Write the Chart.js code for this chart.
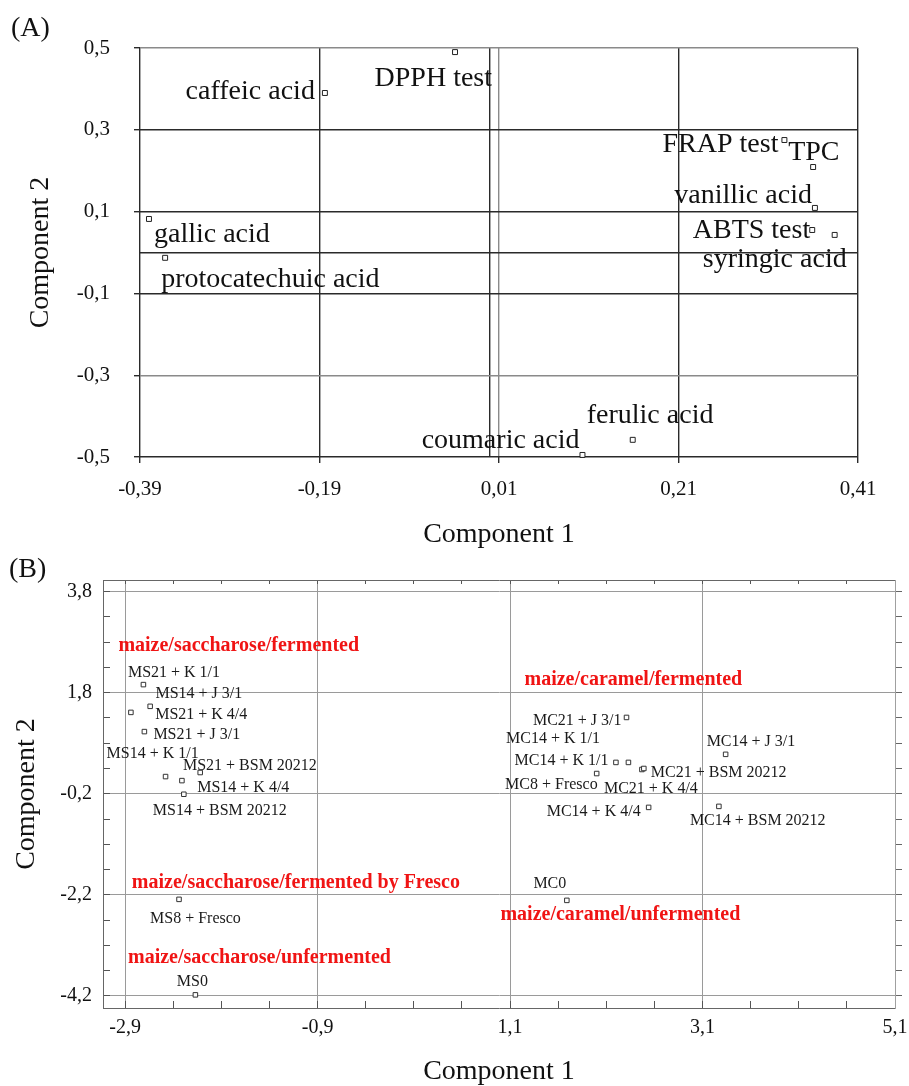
<!DOCTYPE html>
<html>
<head>
<meta charset="utf-8">
<title>PCA loadings and scores</title>
<script src="https://cdn.jsdelivr.net/npm/chart.js@4.4.1/dist/chart.umd.min.js"></script>
<style>
  html, body { margin: 0; padding: 0; background: #fff; }
  #page { position: relative; width: 909px; height: 1086px; overflow: hidden; font-family: "Liberation Serif", "Times New Roman", serif; }
  canvas { position: absolute; left: 0; }
  #chart-a { top: 0; }
  #chart-b { top: 545px; }
  .panel-tag { position: absolute; font-size: 28px; line-height: 1; color: #111; }
</style>
</head>
<body>
<div id="page">
  <canvas id="chart-a" width="909" height="560"></canvas>
  <canvas id="chart-b" width="909" height="541"></canvas>
  <div class="panel-tag" style="left:11px;top:13px">(A)</div>
  <div class="panel-tag" style="left:9px;top:554px">(B)</div>
</div>
<script>
// ---------- Data: (A) loadings ----------

const loadingNames = ['DPPH test', 'caffeic acid', 'gallic acid', 'protocatechuic acid', 'FRAP test', 'TPC',
    'vanillic acid', 'ABTS test', 'syringic acid', 'coumaric acid', 'ferulic acid'];
const loadingPC1 = [-0.039, -0.184, -0.380, -0.362, 0.328, 0.360, 0.362, 0.359, 0.384, 0.103, 0.159];
const loadingPC2 = [0.490, 0.390, 0.082, -0.013, 0.275, 0.209, 0.109, 0.055, 0.043, -0.495, -0.458];

const xTicksA = [-0.39, -0.19, 0, 0.01, 0.21, 0.41];
const xTickLabelsA = ['-0,39', '-0,19', '', '0,01', '0,21', '0,41'];
const yTicksA = [-0.5, -0.3, -0.1, 0, 0.1, 0.3, 0.5];
const yTickLabelsA = ['-0,5', '-0,3', '-0,1', '', '0,1', '0,3', '0,5'];

// ---------- Data: (B) scores ----------

const sampleNames = ['MS21 + K 1/1', 'MS14 + J 3/1', 'MS21 + K 4/4', 'MS21 + J 3/1', 'MS14 + K 1/1',
    'MS21 + BSM 20212', 'MS14 + K 4/4', 'MS14 + BSM 20212', 'MS8 + Fresco', 'MS0',
    'MC21 + J 3/1', 'MC14 + K 1/1', 'MC14 + K 1/1', 'MC8 + Fresco', 'MC21 + K 4/4',
    'MC21 + BSM 20212', 'MC14 + J 3/1', 'MC14 + K 4/4', 'MC14 + BSM 20212', 'MC0'];
const samplePC1 = [-2.84, -2.71, -2.64, -2.70, -2.48, -2.31, -2.12, -2.29, -2.34, -2.17,
    2.31, 2.20, 2.33, 2.00, 2.47, 2.49, 3.34, 2.54, 3.27, 1.69];
const samplePC2 = [1.41, 1.96, 1.53, 1.03, 0.14, 0.06, 0.22, -0.21, -2.29, -4.18,
    1.31, 0.42, 0.42, 0.20, 0.28, 0.30, 0.58, -0.47, -0.45, -2.31];

const groupNames = ['maize/saccharose/fermented', 'maize/caramel/fermented', 'maize/saccharose/fermented by Fresco',
    'maize/caramel/unfermented', 'maize/saccharose/unfermented'];
const groupPC1 = [-2.97, 1.25, -2.83, 1.00, -2.87];
const groupPC2 = [2.63, 1.95, -2.06, -2.70, -3.55];

const xTicksB = [-2.9, -2.4, -1.9, -1.4, -0.9, -0.4, 0.1, 0.6, 1.1, 1.6, 2.1, 2.6, 3.1, 3.6, 4.1, 4.6, 5.1];
const xTickLabelsB = ['-2,9', '', '', '', '-0,9', '', '', '', '1,1', '', '', '', '3,1', '', '', '', '5,1'];
const yTicksB = [-4.2, -3.7, -3.2, -2.7, -2.2, -1.7, -1.2, -0.7, -0.2, 0.3, 0.8, 1.3, 1.8, 2.3, 2.8, 3.3, 3.8];
const yTickLabelsB = ['-4,2', '', '', '', '-2,2', '', '', '', '-0,2', '', '', '', '1,8', '', '', '', '3,8'];

// ---------- Label placement (pixels from marker: dx, dy to baseline, align) ----------

const loadingLabelOffsets = [
    [37, 34, 'right'], [-10, 6, 'right'], [5, 23, 'left'], [-4, 29, 'left'], [-6, 12, 'right'],
    [-25, -7, 'left'], [-3, -5, 'right'], [-2, 8, 'right'], [12, 32, 'right'], [-3, -7, 'right'],
    [-46, -17, 'left']
];
const sampleLabelOffsets = [
    [-3, -35, 'left'], [12, 13, 'left'], [5, 13, 'left'], [9, 7, 'left'], [-59, -19, 'left'],
    [1, -11, 'left'], [-3, 19, 'left'], [-31, 21, 'left'], [-29, 24, 'left'], [-3, -9, 'center'],
    [-5, 8, 'right'], [-16, -19, 'right'], [-20, 3, 'right'], [1, 15, 'right'], [-38, 24, 'left'],
    [7, 9, 'left'], [-19, -8, 'left'], [-8, 9, 'right'], [-29, 19, 'left'], [-17, -12, 'center']
];

const FONT = '"Liberation Serif", "Times New Roman", serif';

// ---------- Plugins ----------

const pointLabelPlugin = {
    id: 'pointLabels',
    afterDatasetsDraw(chart, args, opts) {
        if (!opts || !opts.labels) return;
        const ctx = chart.ctx;
        const meta = chart.getDatasetMeta(0);
        ctx.save();
        ctx.font = opts.font;
        ctx.fillStyle = opts.color;
        ctx.textBaseline = 'alphabetic';
        meta.data.forEach((pt, i) => {
            const [dx, dy, align] = opts.offsets[i];
            ctx.textAlign = align;
            ctx.fillText(opts.labels[i], pt.x + dx, pt.y + dy);
        });
        ctx.restore();
    }
};

const groupLabelPlugin = {
    id: 'groupLabels',
    afterDatasetsDraw(chart, args, opts) {
        if (!opts || !opts.labels) return;
        const { ctx, scales } = chart;
        ctx.save();
        ctx.font = opts.font;
        ctx.fillStyle = opts.color;
        ctx.textAlign = 'left';
        ctx.textBaseline = 'alphabetic';
        opts.labels.forEach((text, i) => {
            ctx.fillText(text, scales.x.getPixelForValue(opts.xs[i]), scales.y.getPixelForValue(opts.ys[i]));
        });
        ctx.restore();
    }
};

function setTicks(values) {
    return scale => { scale.ticks = values.map(value => ({ value })); };
}

function toPoints(xs, ys) {
    return xs.map((x, i) => ({ x, y: ys[i] }));
}

// ---------- Chart (A) ----------

const lightLinesA = [0.5, -0.3, 0.01];

function gridColorA(ctx) {
    const v = ctx.tick ? ctx.tick.value : null;
    return lightLinesA.includes(v) ? '#8a8a8a' : '#2a2a2a';
}

new Chart(document.getElementById('chart-a'), {
    type: 'scatter',
    data: {
        datasets: [{
            data: toPoints(loadingPC1, loadingPC2),
            pointStyle: 'rect',
            pointRadius: 3.5,
            borderWidth: 1,
            borderColor: '#222',
            backgroundColor: '#fff',
            clip: false
        }]
    },
    plugins: [pointLabelPlugin, groupLabelPlugin],
    options: {
        responsive: false,
        animation: false,
        layout: { padding: { top: 48, right: 51, bottom: 0, left: 0 } },
        plugins: {
            legend: { display: false },
            tooltip: { enabled: false },
            pointLabels: {
                labels: loadingNames,
                offsets: loadingLabelOffsets,
                font: '28px ' + FONT,
                color: '#111'
            }
        },
        scales: {
            x: {
                type: 'linear',
                min: -0.39,
                max: 0.41,
                afterBuildTicks: setTicks(xTicksA),
                afterFit: s => { s.height = 103; },
                ticks: {
                    autoSkip: false,
                    maxRotation: 0,
                    padding: 14,
                    color: '#111',
                    font: { family: FONT, size: 21, lineHeight: 1.2 },
                    callback: (v, i) => xTickLabelsA[i]
                },
                grid: {
                    color: gridColorA,
                    lineWidth: 1.4,
                    tickLength: 6,
                    tickColor: ctx => (ctx.tick && ctx.tick.value === 0) ? 'rgba(0,0,0,0)' : '#2a2a2a'
                },
                border: { display: false },
                title: {
                    display: true,
                    text: 'Component 1',
                    color: '#111',
                    font: { family: FONT, size: 28, lineHeight: 1 },
                    padding: { top: 0, bottom: 11 }
                }
            },
            y: {
                type: 'linear',
                min: -0.5,
                max: 0.5,
                afterBuildTicks: setTicks(yTicksA),
                afterFit: s => { s.width = 140; },
                ticks: {
                    autoSkip: false,
                    padding: 24,
                    color: '#111',
                    font: { family: FONT, size: 21, lineHeight: 1.2 },
                    callback: (v, i) => yTickLabelsA[i]
                },
                grid: {
                    color: gridColorA,
                    lineWidth: 1.4,
                    tickLength: 6,
                    tickColor: ctx => (ctx.tick && ctx.tick.value === 0) ? 'rgba(0,0,0,0)' : '#2a2a2a'
                },
                border: { display: false },
                title: {
                    display: true,
                    text: 'Component 2',
                    color: '#111',
                    font: { family: FONT, size: 28, lineHeight: 1 },
                    padding: { top: 27, bottom: 0 }
                }
            }
        }
    }
});

// ---------- Chart (B) ----------

const majorB = labels => ctx => (labels[ctx.index] ? '#9a9a9a' : 'rgba(0,0,0,0)');

new Chart(document.getElementById('chart-b'), {
    type: 'scatter',
    data: {
        datasets: [{
            data: toPoints(samplePC1, samplePC2),
            pointStyle: 'rect',
            pointRadius: 3.2,
            borderWidth: 1,
            borderColor: '#333',
            backgroundColor: '#fff',
            clip: false
        }]
    },
    plugins: [pointLabelPlugin, groupLabelPlugin],
    options: {
        responsive: false,
        animation: false,
        layout: { padding: { top: 35, right: 14, bottom: 0, left: 0 } },
        plugins: {
            legend: { display: false },
            tooltip: { enabled: false },
            pointLabels: {
                labels: sampleNames,
                offsets: sampleLabelOffsets,
                font: '16px ' + FONT,
                color: '#1a1a1a'
            },
            groupLabels: {
                labels: groupNames,
                xs: groupPC1,
                ys: groupPC2,
                font: 'bold 20px ' + FONT,
                color: '#f01414'
            }
        },
        scales: {
            x: {
                type: 'linear',
                min: -3.13,
                max: 5.1,
                afterBuildTicks: setTicks(xTicksB),
                // the last label may overhang into the right margin
                afterFit: s => { s.height = 78; s.paddingLeft = 0; s.paddingRight = 0; },
                ticks: {
                    autoSkip: false,
                    maxRotation: 0,
                    padding: 15,
                    color: '#111',
                    font: { family: FONT, size: 20, lineHeight: 1.2 },
                    callback: (v, i) => xTickLabelsB[i]
                },
                grid: { color: majorB(xTickLabelsB), lineWidth: 1, tickLength: -7, tickColor: '#555' },
                border: { display: true, color: '#666', width: 1 },
                title: {
                    display: true,
                    text: 'Component 1',
                    color: '#111',
                    font: { family: FONT, size: 28, lineHeight: 1 },
                    padding: 0
                }
            },
            y: {
                type: 'linear',
                min: -4.44,
                max: 4.03,
                afterBuildTicks: setTicks(yTicksB),
                afterFit: s => { s.width = 103; },
                ticks: {
                    autoSkip: false,
                    padding: 18,
                    color: '#111',
                    font: { family: FONT, size: 20, lineHeight: 1.2 },
                    callback: (v, i) => yTickLabelsB[i]
                },
                grid: { color: majorB(yTickLabelsB), lineWidth: 1, tickLength: -7, tickColor: '#555' },
                border: { display: true, color: '#666', width: 1 },
                title: {
                    display: true,
                    text: 'Component 2',
                    color: '#111',
                    font: { family: FONT, size: 28, lineHeight: 1 },
                    padding: { top: 13, bottom: 0 }
                }
            },
            x2: {
                type: 'linear',
                position: 'top',
                min: -3.13,
                max: 5.1,
                afterBuildTicks: setTicks(xTicksB),
                afterFit: s => { s.height = 0; s.paddingLeft = 0; s.paddingRight = 0; },
                ticks: { display: false },
                grid: { drawOnChartArea: false, tickLength: -4, tickColor: '#555' },
                border: { display: true, color: '#666', width: 1 }
            },
            y2: {
                type: 'linear',
                position: 'right',
                min: -4.44,
                max: 4.03,
                afterBuildTicks: setTicks(yTicksB),
                afterFit: s => { s.width = 0; },
                ticks: { display: false },
                grid: { drawOnChartArea: false, tickLength: 7, tickColor: '#666' },
                border: { display: true, color: '#a0a0a0', width: 1 }
            }
        }
    }
});
</script>
</body>
</html>
